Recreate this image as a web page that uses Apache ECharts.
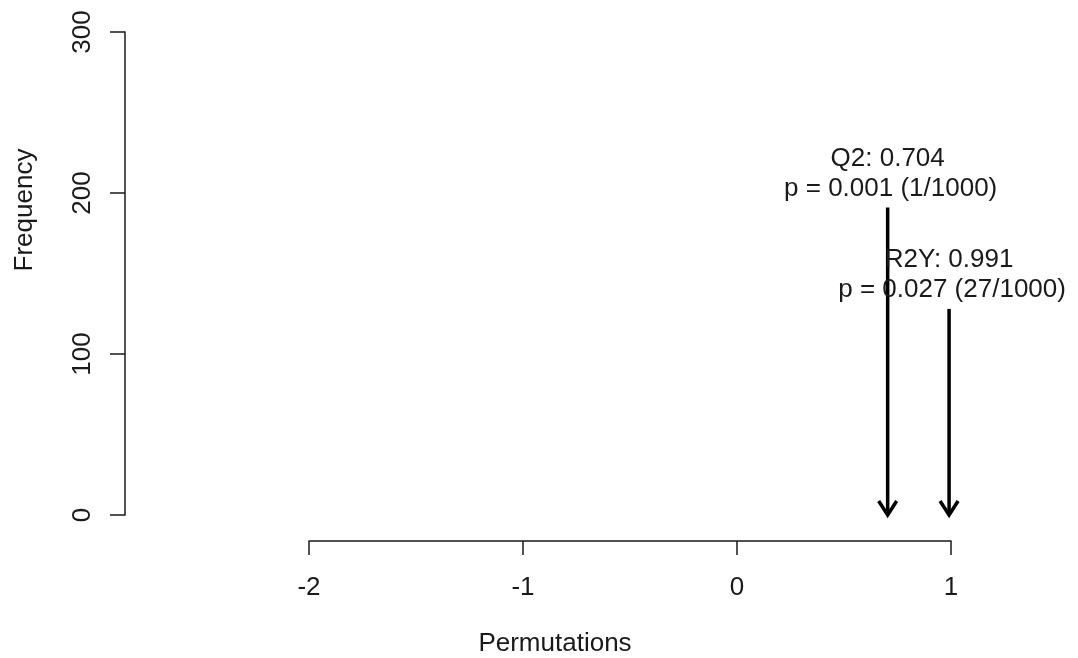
<!DOCTYPE html>
<html>
<head>
<meta charset="utf-8">
<script src="https://cdn.jsdelivr.net/npm/echarts@6/dist/echarts.min.js"></script>
<style>html,body{margin:0;padding:0;background:#fff;}#c{width:1078px;height:658px;}</style>
</head>
<body>
<div id="c"></div>
<script>
// Data
const statNames = ['Q2', 'R2Y'];
const statValues = [0.704, 0.991];
const pValues = ['0.001', '0.027'];
const permCounts = ['1/1000', '27/1000'];
const arrowTops = [191, 128];
const yTicks = [0, 100, 200, 300];
const xTicks = [-2, -1, 0, 1];

const FONT = "'Liberation Sans', Arial, Helvetica, sans-serif";
const FS = 26;
const ink = '#1a1a1a';

const arrowData = statValues.map((v, i) => [v, arrowTops[i], i]);

const chart = echarts.init(document.getElementById('c'));
chart.setOption({
  animation: false,
  backgroundColor: '#fff',
  grid: [
    { left: 125, top: 32, width: 933, height: 483 },
    { left: 309, top: 500, width: 642, height: 41 }
  ],
  xAxis: [
    { gridIndex: 0, type: 'value', min: -2.86, max: 1.5, show: false },
    {
      gridIndex: 1, type: 'value', min: xTicks[0], max: xTicks[xTicks.length - 1], interval: 1,
      position: 'bottom',
      axisLine: { show: true, onZero: false, lineStyle: { color: ink, width: 1.5 } },
      axisTick: { show: true, length: 14, lineStyle: { color: ink, width: 1.5 } },
      axisLabel: { color: ink, fontFamily: FONT, fontSize: FS, margin: 34 },
      splitLine: { show: false }
    }
  ],
  yAxis: [
    {
      gridIndex: 0, type: 'value', min: yTicks[0], max: yTicks[yTicks.length - 1], interval: 100,
      position: 'left',
      axisLine: { show: true, onZero: false, lineStyle: { color: ink, width: 1.5 } },
      axisTick: { show: true, length: 15, lineStyle: { color: ink, width: 1.5 } },
      axisLabel: { color: ink, fontFamily: FONT, fontSize: FS, rotate: 90, margin: 29 },
      splitLine: { show: false }
    },
    { gridIndex: 1, type: 'value', show: false, min: 0, max: 1 }
  ],
  graphic: [
    { type: 'text', x: 25, y: 210, rotation: Math.PI / 2,
      style: { text: 'Frequency', fontFamily: FONT, fontSize: FS, fill: ink, align: 'center', verticalAlign: 'middle' } },
    { type: 'text', x: 555, y: 644,
      style: { text: 'Permutations', fontFamily: FONT, fontSize: FS, fill: ink, align: 'center', verticalAlign: 'middle' } }
  ],
  series: [{
    type: 'custom',
    xAxisIndex: 0, yAxisIndex: 0,
    data: arrowData,
    clip: false,
    renderItem: function (params, api) {
      const i = api.value(2);
      const top = api.coord([api.value(0), api.value(1)]);
      const bot = api.coord([api.value(0), 0]);
      const hx = 9, hy = 14;
      return {
        type: 'group',
        children: [
          { type: 'line', shape: { x1: top[0], y1: top[1], x2: bot[0], y2: bot[1] - 1 },
            style: { stroke: '#000', lineWidth: 3.5 } },
          { type: 'polyline', shape: { points: [[bot[0] - hx, bot[1] - hy], [bot[0], bot[1]], [bot[0] + hx, bot[1] - hy]] },
            style: { stroke: '#000', lineWidth: 3.5, fill: null, lineJoin: 'miter' } },
          { type: 'text', x: top[0], y: top[1] - 49,
            style: { text: statNames[i] + ': ' + statValues[i], fontFamily: FONT, fontSize: FS, fill: ink, align: 'center', verticalAlign: 'middle' } },
          { type: 'text', x: top[0] + 3, y: top[1] - 19,
            style: { text: 'p = ' + pValues[i] + ' (' + permCounts[i] + ')', fontFamily: FONT, fontSize: FS, fill: ink, align: 'center', verticalAlign: 'middle' } }
        ]
      };
    }
  }]
});
</script>
</body>
</html>
